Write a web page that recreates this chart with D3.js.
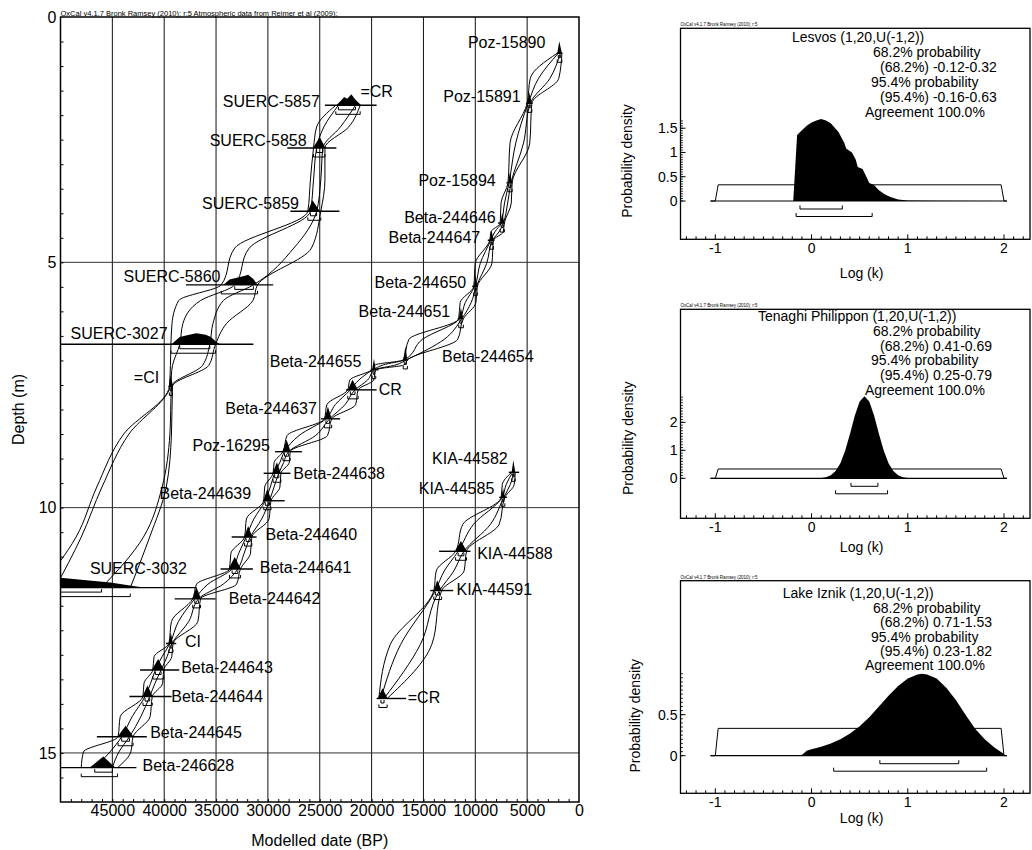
<!DOCTYPE html>
<html>
<head>
<meta charset="utf-8">
<script src="https://cdn.jsdelivr.net/npm/d3@7"></script>
<style>
body { margin: 0; background: #fff; }
</style>
</head>
<body>
<div></div>
<script>
const width = 1032, height = 850
const font = "'Liberation Sans', Arial, Helvetica, sans-serif"
const svg = d3.select("div")
	.append("svg")
	.attr("xmlns", "http://www.w3.org/2000/svg")
	.attr("width", width)
	.attr("height", height)

// ---------- data: main age-depth plot ----------
const dateTicks = [45000, 40000, 35000, 30000, 25000, 20000, 15000, 10000, 5000, 0]
const depthTicks = [0, 5, 10, 15]
const depthGrid = [5, 10, 15]

// [name, depth (m), posterior [[age BP, rel. density]], line [old, young], ranges [95 old, 68 old, 68 young, 95 young]]
const lesvosSamples = [
	["SUERC-5857", 1.80, [[23400,0],[22900,.45],[22650,.7],[22350,.55],[21950,.92],[21600,.5],[21000,0]], [24500,19520], [23450,23200,21550,21100]],
	["SUERC-5858", 2.67, [[25650,0],[25000,.92],[24450,0]], [28130,23400], [25600,25300,24700,24500]],
	["SUERC-5859", 3.96, [[26150,0],[25700,.92],[25000,0]], [27830,23100], [26150,25900,25300,24900]],
	["SUERC-5860", 5.46, [[34300,0],[33700,.45],[33000,.6],[32300,.75],[31900,.85],[31400,.5],[31000,0]], [37910,29490], [34500,33200,31400,31000]],
	["SUERC-3027", 6.67, [[39300,0],[38500,.6],[37800,.75],[36900,.92],[36000,.8],[35500,.6],[35000,.2],[34600,0]], [50000,31400], [39350,38500,35600,35050]],
	["=CI", 7.53, [[39550,0],[39380,1],[39150,0]], [39600,39150], [39500,39420,39300,39200]],
	["SUERC-3032", 11.63, [[53000,.9],[50000,.83],[47500,.62],[45200,.42],[43000,.14],[42000,0]], [50000,36880], [52000,50500,46040,43270]]
]
// envelope between dated levels: [depth, 95 old, 68 old, 68 young, 95 young]
const lesvosMid = [
	[2.24, 25300, 24600, 23000, 22200],
	[3.32, 25900, 25600, 24900, 24500],
	[4.71, 33200, 31800, 27500, 25800],
	[5.78, 38600, 36500, 34300, 31450],
	[6.25, 39250, 38200, 35300, 34000],
	[7.10, 39400, 39200, 36300, 35700],
	[8.50, 43900, 43400, 39450, 39300],
	[9.58, 46500, 46000, 40200, 39800],
	[10.60, 48500, 48000, 42000, 41400]
]
const lesvosLabels = [
	["SUERC-5857", 24900, 1.73, "end"], ["=CR", 21170, 1.52, "start"],
	["SUERC-5858", 26170, 2.51, "end"], ["SUERC-5859", 26910, 3.80, "end"],
	["SUERC-5860", 34480, 5.29, "end"], ["SUERC-3027", 39580, 6.46, "end"],
	["=CI", 40390, 7.34, "end"], ["SUERC-3032", 37720, 11.25, "end"]
]

const tenaghiSamples = [
	["Poz-15890", 0.74, [[2100,0],[1900,1],[1650,0]], [2150,1600], [2100,2000,1800,1650]],
	["Poz-15891", 1.76, [[5000,0],[4800,.9],[4550,0]], [5110,4470], [5000,4900,4700,4550]],
	["Poz-15894", 3.38, [[6850,0],[6650,.9],[6450,0]], [7000,6400], [6850,6750,6550,6450]],
	["Beta-244646", 4.20, [[7600,0],[7400,.85],[7200,0]], [7800,7150], [7600,7500,7300,7200]],
	["Beta-244647", 4.55, [[8600,0],[8430,.85],[8250,0]], [8800,8150], [8600,8500,8350,8250]],
	["Beta-244650", 5.49, [[10150,0],[9980,.92],[9800,0]], [10300,9750], [10150,10050,9900,9800]],
	["Beta-244651", 6.15, [[11600,0],[11390,.92],[11150,0]], [11700,11150], [11600,11500,11300,11150]],
	["Beta-244654", 6.99, [[16950,0],[16740,1.15],[16550,0]], [17000,16500], [16950,16850,16650,16550]],
	["Beta-244655", 7.19, [[19950,0],[19770,.92],[19600,0]], [20100,19330], [19950,19850,19700,19600]],
	["CR", 7.60, [[22300,0],[21850,.85],[21300,0]], [22470,19520], [22300,22050,21600,21300]],
	["Beta-244637", 8.19, [[24550,0],[24210,1],[23850,0]], [24880,23030], [24550,24400,24050,23850]],
	["Poz-16295", 8.86, [[28600,0],[28200,1],[27800,0]], [29310,26720], [28550,28400,28000,27850]],
	["Beta-244638", 9.30, [[29550,0],[29130,.92],[28750,0]], [30410,27830], [29500,29350,28950,28750]],
	["Beta-244639", 9.86, [[30450,0],[30050,1],[29650,0]], [30490,28380], [30400,30250,29850,29700]],
	["Beta-244640", 10.60, [[32300,0],[31900,.92],[31500,0]], [33490,31090], [32250,32100,31700,31550]],
	["Beta-244641", 11.25, [[33800,0],[33200,1],[32600,0]], [34560,31450], [33700,33450,32900,32650]],
	["Beta-244642", 11.86, [[37300,0],[36890,1],[36450,0]], [38990,35040], [37250,37050,36700,36500]],
	["CI", 12.77, [[39550,0],[39360,.92],[39150,0]], [39840,38840], [39550,39450,39250,39150]],
	["Beta-244643", 13.31, [[41200,0],[40580,.92],[40000,0]], [42320,38550], [41100,40850,40300,40050]],
	["Beta-244644", 13.85, [[42100,0],[41620,.92],[41100,0]], [43350,39280], [42050,41850,41400,41150]],
	["Beta-244645", 14.67, [[44500,0],[43720,.92],[42950,0]], [46490,41680], [44450,44100,43350,43000]],
	["Beta-246628", 15.30, [[47200,0],[45870,.92],[44700,0]], [50000,42680], [48000,46700,45000,44500]]
]
const tenaghiMid = [
	[1.25, 4700, 3900, 2800, 1950],
	[2.57, 6650, 6100, 5350, 4750],
	[3.79, 7520, 7180, 6880, 6530],
	[4.38, 8500, 8120, 7710, 7300],
	[5.02, 10000, 9520, 8900, 8400],
	[5.82, 11460, 10970, 10400, 9940],
	[6.57, 16400, 15100, 13000, 11700],
	[7.09, 19650, 18860, 17650, 16850],
	[7.40, 22100, 21230, 20390, 19810],
	[7.90, 24310, 23500, 22560, 21540],
	[8.53, 28150, 27000, 25400, 24250],
	[9.08, 29400, 28850, 28480, 27940],
	[9.58, 30310, 29770, 29410, 28840],
	[10.23, 32070, 31350, 30600, 29890],
	[10.93, 33570, 32810, 32290, 31680],
	[11.56, 36880, 35780, 34310, 33020],
	[12.32, 39300, 38620, 37630, 36750],
	[13.04, 40980, 40210, 39730, 39270],
	[13.58, 41950, 41310, 40890, 40150],
	[14.26, 44240, 43090, 42250, 41360],
	[14.98, 47790, 45230, 44370, 43220]
]
const tenaghiLabels = [
	["Poz-15890", 3150, 0.52, "end"], ["Poz-15891", 5530, 1.63, "end"],
	["Poz-15894", 7930, 3.33, "end"], ["Beta-244646", 7930, 4.08, "end"],
	["Beta-244647", 9430, 4.49, "end"], ["Beta-244650", 10780, 5.42, "end"],
	["Beta-244651", 12320, 6.00, "end"], ["Beta-244654", 13310, 6.92, "start"],
	["Beta-244655", 20890, 7.03, "end"], ["CR", 19410, 7.60, "start"],
	["Beta-244637", 25180, 7.98, "end"], ["Poz-16295", 29710, 8.73, "end"],
	["Beta-244638", 27640, 9.30, "start"], ["Beta-244639", 31520, 9.72, "end"],
	["Beta-244640", 30330, 10.55, "start"], ["Beta-244641", 30880, 11.22, "start"],
	["Beta-244642", 33870, 11.85, "start"], ["CI", 38100, 12.73, "start"],
	["Beta-244643", 38460, 13.25, "start"], ["Beta-244644", 39420, 13.84, "start"],
	["Beta-244645", 41450, 14.59, "start"], ["Beta-246628", 42190, 15.25, "start"]
]

const iznikSamples = [
	["KIA-44582", 9.28, [[6500,0],[6330,1],[6150,0]], [6770,5770], [6500,6400,6250,6150]],
	["KIA-44585", 9.79, [[7500,0],[7320,.75],[7150,0]], [7690,6950], [7500,7400,7250,7150]],
	["KIA-44588", 10.89, [[11950,0],[11390,.85],[10800,0]], [13490,10460], [11900,11650,11100,10850]],
	["KIA-44591", 11.69, [[14000,0],[13670,.85],[13250,0]], [14350,12130], [14000,13850,13450,13250]],
	["=CR", 13.89, [[19400,0],[18960,.85],[18450,0]], [19520,16670], [19300,19100,18800,18500]]
]
const iznikMid = [
	[9.53, 7400, 7020, 6630, 6250],
	[10.34, 11200, 10170, 8540, 7700],
	[11.29, 13770, 12990, 12070, 11080],
	[12.79, 18200, 17200, 15300, 14200]
]
const iznikLabels = [
	["KIA-44582", 6780, 9.00, "end"], ["KIA-44585", 8070, 9.62, "end"],
	["KIA-44588", 9920, 10.93, "start"], ["KIA-44591", 11910, 11.67, "start"],
	["=CR", 16610, 13.86, "start"]
]

// ---------- data: k parameter panels ----------
const panelTitles = ["Lesvos (1,20,U(-1,2))", "Tenaghi Philippon (1,20,U(-1,2))", "Lake Iznik (1,20,U(-1,2))"]
const panel68 = [[-0.12, 0.32], [0.41, 0.69], [0.71, 1.53]]
const panel95 = [[-0.16, 0.63], [0.25, 0.79], [0.23, 1.82]]
const panelAgreement = [100.0, 100.0, 100.0]
const panelYLabels = [[0, 0.5, 1, 1.5], [0, 1, 2], [0, 0.5]]
const panelYMinor = [0.05, 0.1, 0.05]
const logkTicks = [-1, 0, 1, 2]
const priorShape = [[-1.05,0],[-1,0],[-0.97,1/3],[1.97,1/3],[2,0],[2.03,0]]
const lesvosK = [[-0.19,0],[-0.15,1.36],[-0.1,1.46],[-0.05,1.55],[0,1.62],[0.05,1.66],[0.1,1.69],[0.15,1.66],
	[0.2,1.6],[0.28,1.42],[0.34,1.2],[0.36,1.08],[0.42,1.0],[0.46,0.85],[0.48,0.7],[0.53,0.66],[0.57,0.5],
	[0.6,0.37],[0.65,0.33],[0.7,0.22],[0.76,0.14],[0.82,0.08],[0.9,0.03],[1.0,0.012],[1.3,0.005],[2.0,0]]
const tenaghiK = [[0.1,0.012],[0.15,0.039],[0.2,0.107],[0.25,0.26],[0.3,0.54],[0.35,0.99],[0.4,1.59],[0.45,2.24],
	[0.5,2.74],[0.55,2.93],[0.6,2.74],[0.65,2.24],[0.7,1.59],[0.75,0.99],[0.8,0.54],[0.85,0.26],[0.9,0.107],
	[0.95,0.039],[1.0,0.012],[1.1,0.002],[1.2,0]]
const iznikK = [[-0.11,0],[-0.05,0.06],[0,0.08],[0.1,0.11],[0.2,0.15],[0.3,0.2],[0.4,0.27],[0.5,0.36],[0.6,0.47],
	[0.7,0.6],[0.8,0.73],[0.9,0.85],[1.0,0.94],[1.1,0.99],[1.15,1.0],[1.2,0.99],[1.3,0.94],[1.4,0.83],[1.5,0.68],
	[1.6,0.5],[1.7,0.33],[1.8,0.2],[1.9,0.1],[1.95,0.06],[2.0,0.02],[2.01,0]]
const panelPosts = [lesvosK, tenaghiK, iznikK]

// ---------- main plot ----------
const x = d3.scaleLinear().domain([50000, 0]).range([60.5, 579])
const y = d3.scaleLinear().domain([0, 16]).range([17, 802])
const dens = d3.scaleLinear().domain([0, 1]).range([0, 12])

svg.append("clipPath").attr("id", "plotclip")
	.append("rect").attr("x", x(50000)).attr("y", y(0))
	.attr("width", x(0) - x(50000)).attr("height", y(16) - y(0))

// grid
svg.append("g").selectAll("line").data(dateTicks.filter(d => d > 0)).join("line")
	.attr("x1", d => x(d)).attr("x2", d => x(d)).attr("y1", y(0)).attr("y2", y(16))
	.attr("stroke", "#111").attr("stroke-width", 1)
svg.append("g").selectAll("line").data(depthGrid).join("line")
	.attr("x1", x(50000)).attr("x2", x(0)).attr("y1", d => y(d)).attr("y2", d => y(d))
	.attr("stroke", "#333").attr("stroke-width", 1)

// axes: minor ticks pointing in, labels outside
const minorX = svg.append("g").attr("transform", `translate(0,${y(16)})`)
	.call(d3.axisBottom(x).tickValues(d3.range(1000, 50000, 1000)).tickSize(-3).tickFormat(""))
const minorY = svg.append("g").attr("transform", `translate(${x(50000)},0)`)
	.call(d3.axisLeft(y).tickValues(d3.range(0.5, 16, 0.5)).tickSize(-3).tickFormat(""))
const labX = svg.append("g").attr("transform", `translate(0,${y(16)})`)
	.call(d3.axisBottom(x).tickValues(dateTicks).tickSize(0).tickPadding(3).tickFormat(d3.format("d")))
const labY = svg.append("g").attr("transform", `translate(${x(50000)},0)`)
	.call(d3.axisLeft(y).tickValues(depthTicks).tickSize(0).tickPadding(4).tickFormat(d3.format("d")))
for (const g of [minorX, minorY, labX, labY]) {
	g.select(".domain").remove()
	g.selectAll("line").attr("stroke", "#000")
	g.selectAll("text").attr("font-size", 16).attr("font-family", font).attr("fill", "#000")
}

svg.append("text")
	.attr("x", 18).attr("y", (y(0) + y(16)) / 2)
	.attr("transform", `rotate(-90,18,${(y(0) + y(16)) / 2})`)
	.attr("text-anchor", "middle").attr("dominant-baseline", "central")
	.attr("font-family", font).attr("font-size", 16)
	.text("Depth (m)")
svg.append("text")
	.attr("x", (x(50000) + x(0)) / 2).attr("y", 840)
	.attr("text-anchor", "middle").attr("dominant-baseline", "central")
	.attr("font-family", font).attr("font-size", 16)
	.text("Modelled date (BP)")
svg.append("text")
	.attr("x", x(50000)).attr("y", 15.5)
	.attr("font-family", font).attr("font-size", 7)
	.attr("textLength", 277).attr("lengthAdjust", "spacingAndGlyphs")
	.text("OxCal v4.1.7 Bronk Ramsey (2010); r:5 Atmospheric data from Reimer et al (2009);")

const plot = svg.append("g").attr("clip-path", "url(#plotclip)")

function drawSequence(samples, mids, labels) {
	const g = plot.append("g")
	// 1. envelopes (68% / 95% bounds) through dated levels
	const rows = samples.map(s => [s[1], ...s[4]]).concat(mids).sort((a, b) => a[0] - b[0])
	for (const k of [1, 2, 3, 4]) {
		g.append("path")
			.attr("d", d3.line().x(d => x(d[k])).y(d => y(d[0])).curve(d3.curveMonotoneY)(rows))
			.attr("fill", "none").attr("stroke", "#000").attr("stroke-width", 1)
	}
	// 2. posterior distributions
	g.selectAll(".post").data(samples).join("path")
		.attr("d", s => d3.area().x(d => x(d[0])).y0(y(s[1])).y1(d => y(s[1]) - dens(d[1]))(s[2]))
		.attr("fill", "#000")
	// 3. sample lines
	g.selectAll(".lvl").data(samples).join("line")
		.attr("x1", s => x(s[3][0])).attr("x2", s => x(s[3][1]))
		.attr("y1", s => y(s[1])).attr("y2", s => y(s[1]))
		.attr("stroke", "#000").attr("stroke-width", 1.4)
	// 4. range brackets (68.2% and 95.4%)
	g.selectAll(".br").data(samples.flatMap(s => [[s[1], s[4][1], s[4][2], 4.5], [s[1], s[4][0], s[4][3], 9]])).join("path")
		.attr("d", d => `M${x(d[1])},${y(d[0]) + d[3] - 3}V${y(d[0]) + d[3]}H${x(d[2])}V${y(d[0]) + d[3] - 3}`)
		.attr("fill", "none").attr("stroke", "#000").attr("stroke-width", 1)
	// 5. labels
	svg.append("g").selectAll("text").data(labels).join("text")
		.attr("x", d => x(d[1]) + (d[3] == "end" ? -1 : 1)).attr("y", d => y(d[2]))
		.attr("text-anchor", d => d[3]).attr("dominant-baseline", "central")
		.attr("font-family", font).attr("font-size", 16).attr("fill", "#000")
		.text(d => d[0])
}
drawSequence(lesvosSamples, lesvosMid, lesvosLabels)
drawSequence(tenaghiSamples, tenaghiMid, tenaghiLabels)
drawSequence(iznikSamples, iznikMid, iznikLabels)

svg.append("rect")
	.attr("x", x(50000)).attr("y", y(0))
	.attr("width", x(0) - x(50000)).attr("height", y(16) - y(0))
	.attr("fill", "none").attr("stroke", "#000").attr("stroke-width", 1.5)

// ---------- k panels ----------
const panelTop = [28.3, 309.3, 580.7]
const panelBottom = [239.3, 518.3, 793.3]
const panelBase = [201, 478.3, 755.7]
const panelTitleX = [792, 758, 782.7]
const panelTextY = [37, 316, 593.3]
const panelTextStep = [14.9, 14.8, 14.4]
const panelLogkY = [273, 547, 818]
const panelLeft = 680.5, panelRight = 1030
const kx = d3.scaleLinear().domain([-1, 2]).range([715.3, 1004])
const fmt = v => v.toFixed(2)   // plain hyphen minus, as in OxCal

panelTitles.forEach((title, i) => {
	const g = svg.append("g")
	const post = panelPosts[i]
	const ymax = d3.max(post, d => d[1])
	const ky = d3.scaleLinear().domain([0, ymax]).range([panelBase[i], panelBase[i] - 82])
	const bot = panelBottom[i]

	g.append("text")
		.attr("x", panelLeft).attr("y", panelTop[i] - 2)
		.attr("font-family", font).attr("font-size", 6)
		.attr("textLength", 77).attr("lengthAdjust", "spacingAndGlyphs")
		.text("OxCal v4.1.7 Bronk Ramsey (2010); r:5")

	// posterior and prior
	g.append("path")
		.attr("d", d3.area().x(d => kx(d[0])).y0(ky(0)).y1(d => ky(d[1]))(post))
		.attr("fill", "#000")
	g.append("path")
		.attr("d", d3.line().x(d => kx(d[0])).y(d => ky(d[1]))(priorShape))
		.attr("fill", "none").attr("stroke", "#000").attr("stroke-width", 1)
	g.append("line")
		.attr("x1", kx(-1.05)).attr("x2", kx(2.03)).attr("y1", ky(0)).attr("y2", ky(0))
		.attr("stroke", "#000").attr("stroke-width", 1.2)

	// range brackets
	g.selectAll(".br").data([[panel68[i], 8], [panel95[i], 15.5]]).join("path")
		.attr("d", d => `M${kx(d[0][0])},${ky(0) + d[1] - 3.5}V${ky(0) + d[1]}H${kx(d[0][1])}V${ky(0) + d[1] - 3.5}`)
		.attr("fill", "none").attr("stroke", "#000").attr("stroke-width", 1)

	// frame
	g.append("rect")
		.attr("x", panelLeft).attr("y", panelTop[i])
		.attr("width", panelRight - panelLeft).attr("height", bot - panelTop[i])
		.attr("fill", "none").attr("stroke", "#000").attr("stroke-width", 1.3)

	// x ticks (0.1 steps, longer at integers)
	const xt = d3.range(-13, 23)
	g.selectAll(".xt").data(xt).join("line")
		.attr("x1", d => kx(d / 10)).attr("x2", d => kx(d / 10))
		.attr("y1", bot).attr("y2", d => bot - (d % 10 == 0 ? 5 : 3))
		.attr("stroke", "#000")
	g.selectAll(".xl").data(logkTicks).join("text")
		.attr("x", d => kx(d)).attr("y", bot + 8.5)
		.attr("text-anchor", "middle").attr("dominant-baseline", "central")
		.attr("font-family", font).attr("font-size", 14)
		.text(d => d)

	// y ticks
	const yt = d3.range(0, Math.floor(ymax / panelYMinor[i] + 1e-9) + 1).map(v => v * panelYMinor[i])
	g.selectAll(".yt").data(yt).join("line")
		.attr("x1", panelLeft).attr("x2", panelLeft + 2.5)
		.attr("y1", d => ky(d)).attr("y2", d => ky(d))
		.attr("stroke", "#000").attr("stroke-width", 0.8)
	g.selectAll(".ym").data(panelYLabels[i]).join("line")
		.attr("x1", panelLeft).attr("x2", panelLeft + 5)
		.attr("y1", d => ky(d)).attr("y2", d => ky(d))
		.attr("stroke", "#000")
	g.selectAll(".yl").data(panelYLabels[i]).join("text")
		.attr("x", panelLeft - 3).attr("y", d => ky(d))
		.attr("text-anchor", "end").attr("dominant-baseline", "central")
		.attr("font-family", font).attr("font-size", 14)
		.text(d => d)

	// axis titles
	const cy = panelBase[i] - 40, cx = [627, 628, 635][i]
	g.append("text")
		.attr("x", cx).attr("y", cy)
		.attr("transform", `rotate(-90,${cx},${cy})`)
		.attr("text-anchor", "middle").attr("dominant-baseline", "central")
		.attr("font-family", font).attr("font-size", 14)
		.text("Probability density")
	g.append("text")
		.attr("x", (kx(-1) + kx(2)) / 2 + 2).attr("y", panelLogkY[i])
		.attr("text-anchor", "middle").attr("dominant-baseline", "central")
		.attr("font-family", font).attr("font-size", 14)
		.text("Log (k)")

	// summary text
	const lines = [
		[title, panelTitleX[i]],
		["68.2% probability", 873],
		[`(68.2%) ${fmt(panel68[i][0])}-${fmt(panel68[i][1])}`, 880],
		["95.4% probability", 871],
		[`(95.4%) ${fmt(panel95[i][0])}-${fmt(panel95[i][1])}`, 880],
		[`Agreement ${panelAgreement[i].toFixed(1)}%`, 865]
	]
	g.selectAll(".tx").data(lines).join("text")
		.attr("x", d => d[1]).attr("y", (d, j) => panelTextY[i] + j * panelTextStep[i])
		.attr("dominant-baseline", "central")
		.attr("font-family", font).attr("font-size", 14)
		.text(d => d[0])
})
</script>
</body>
</html>
